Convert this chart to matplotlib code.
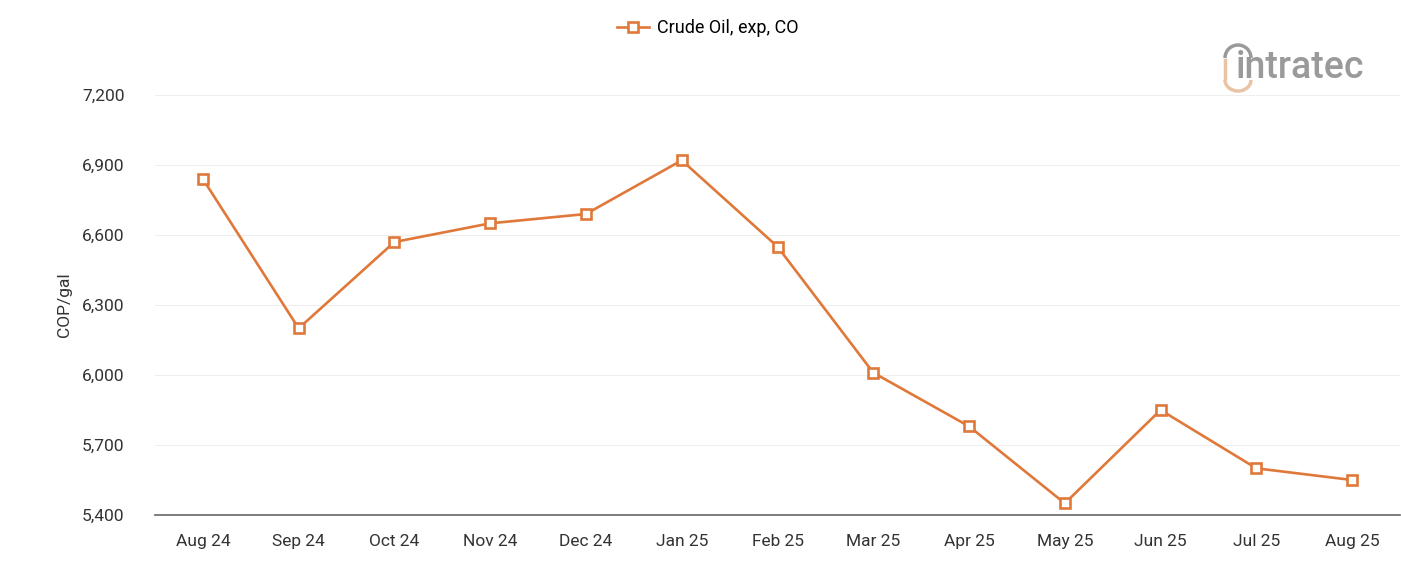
import numpy as np
import matplotlib.pyplot as plt
from matplotlib.patches import Arc

plt.rcParams['font.family'] = ['Roboto', 'DejaVu Sans']

# monthly price data
months = ['Aug 24', 'Sep 24', 'Oct 24', 'Nov 24', 'Dec 24', 'Jan 25', 'Feb 25',
          'Mar 25', 'Apr 25', 'May 25', 'Jun 25', 'Jul 25', 'Aug 25']
prices = [6840, 6200, 6570, 6650, 6690, 6920, 6550, 6010, 5780, 5450, 5850, 5600, 5550]
yticks = [5400, 5700, 6000, 6300, 6600, 6900, 7200]

orange = '#E0783A'
W, H = 1401, 561

fig = plt.figure(figsize=(W / 100, H / 100), dpi=100)
ax = fig.add_axes([155/W, 46/H, 1245/W, 420/H])

x = np.arange(len(months))
ax.plot(x, prices, color=orange, lw=1.9, marker='s', ms=7, mfc='white',
        mec=orange, mew=1.9, label='Crude Oil, exp, CO', zorder=3)

ax.set_xlim(-0.5, len(months) - 0.5)
ax.set_ylim(5400, 7200)
ax.set_xticks(x)
ax.set_xticklabels(months)
ax.set_yticks(yticks)
ax.set_yticklabels([f'{v:,}' for v in yticks])
ax.tick_params(axis='both', length=0, labelsize=12.5, colors='#333333')
ax.tick_params(axis='x', pad=14)
ax.tick_params(axis='y', pad=22)

ax.grid(axis='y', color='#eeeeee', lw=0.8)
ax.set_axisbelow(True)
for s in ['top', 'right', 'left']:
    ax.spines[s].set_visible(False)
ax.spines['bottom'].set_color('#666666')
ax.spines['bottom'].set_linewidth(1.2)

ax.set_ylabel('COP/gal', fontsize=12.5, color='#333333', labelpad=7)

fig.legend(loc='center', bbox_to_anchor=((618 + 797) / 2 / W, 1 - 28/H), frameon=False,
           fontsize=13, handlelength=1.8, handletextpad=0.4)

# logo: grey top arc, tan bottom hook, then the word
tan = '#E8C4A4'
fig.patches.append(Arc((1238/W, 1 - 58/H), 26/W, 26/H, theta1=0, theta2=180,
                       transform=fig.transFigure, color='#9a9a9a', lw=2.5))
fig.add_artist(plt.Line2D([1225/W, 1225/W], [1 - 60/H, 1 - 78/H],
                          transform=fig.transFigure, color=tan, lw=2.5))
fig.patches.append(Arc((1238/W, 1 - 80/H), 26/W, 22/H, theta1=180, theta2=360,
                       transform=fig.transFigure, color=tan, lw=2.5))
fig.text(1236/W, 1 - 68/H, 'intratec', fontsize=27, color='#9a9a9a',
         fontweight='medium', va='center', ha='left')

fig.savefig('out.png', dpi=100, facecolor='white')
